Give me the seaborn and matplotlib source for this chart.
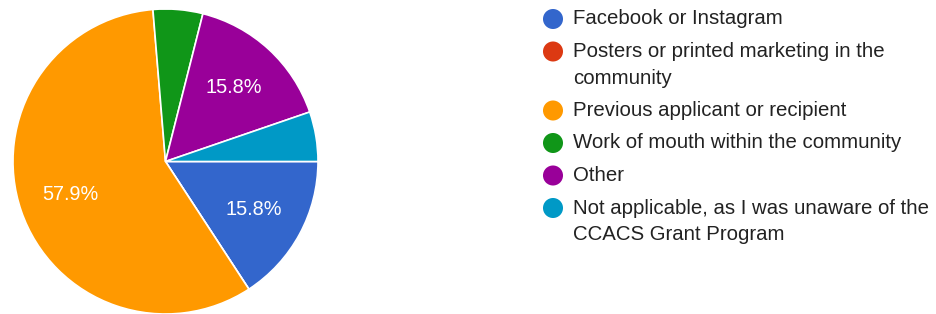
import matplotlib
matplotlib.use("Agg")
import matplotlib.pyplot as plt
import seaborn as sns

sources = [
    "Facebook or Instagram",
    "Posters or printed marketing in the\ncommunity",
    "Previous applicant or recipient",
    "Work of mouth within the community",
    "Other",
    "Not applicable, as I was unaware of the\nCCACS Grant Program",
]
counts = [3, 0, 11, 1, 3, 1]
colors = ["#3366CC", "#DC3912", "#FF9900", "#109618", "#990099", "#0099C6"]

sns.set_style("white")
plt.rcParams["font.family"] = ["Liberation Sans", "DejaVu Sans"]

W, H = 936, 314
fig = plt.figure(figsize=(W / 100, H / 100), dpi=100)
ax = fig.add_axes([13 / W, 0.0, 305 / W, 305 / H])


def pct_label(p):
    return f"{p:.1f}%" if p > 8 else ""


wedges, _, autotexts = ax.pie(
    counts, colors=colors, startangle=0, counterclock=False,
    autopct=pct_label, pctdistance=0.66,
    wedgeprops=dict(edgecolor="white", linewidth=1.2),
    textprops=dict(color="white", fontsize=14.3),
)
ax.set_xlim(-1.0, 1.0)
ax.set_ylim(-1.0, 1.0)
ax.set_aspect("equal")

# legend drawn by hand so the dot lines up with the first text line
lax = fig.add_axes([0, 0, 1, 1])
lax.set_xlim(0, W)
lax.set_ylim(H, 0)
lax.axis("off")
y = 19
for label, c in zip(sources, colors):
    lax.scatter([553], [y], s=20 ** 2 * 0.52, color=c, edgecolor="none")
    for i, line in enumerate(label.split("\n")):
        lax.text(573, y + i * 26.5, line, fontsize=14.7, color="#222222",
                 va="center", ha="left")
    y += 32.5 + 26.5 * label.count("\n")

fig.savefig("out.png", dpi=100, facecolor="white")
